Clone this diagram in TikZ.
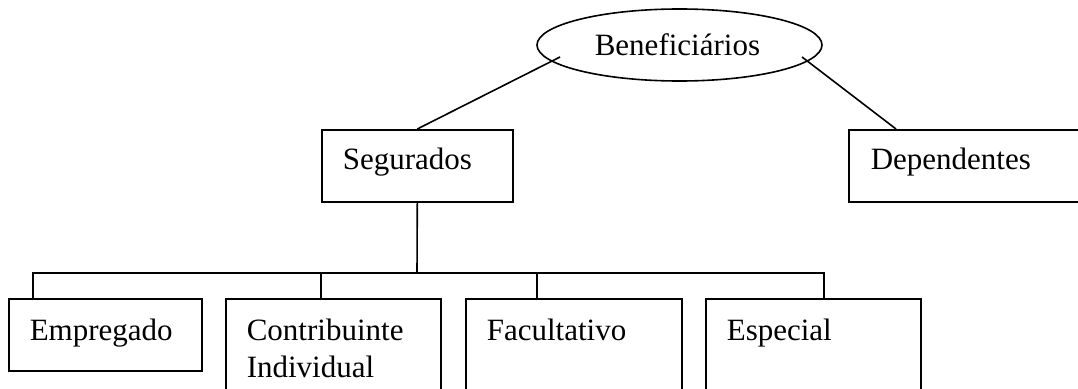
\documentclass[tikz,border=0pt]{standalone}
\usepackage{fontspec}
\setmainfont{Liberation Serif}
\usetikzlibrary{calc,shapes.geometric}
\begin{document}
\begin{tikzpicture}[x=1pt,y=-1pt, line width=1.6pt,
  box/.style={draw, rectangle, inner sep=0pt, anchor=north west},
  lbl/.style={anchor=base west, inner sep=0pt, font=\fontsize{31}{37}\selectfont},
  ]
\useasboundingbox (0,0) rectangle (1078,388);
% top ellipse
\node[draw, ellipse, minimum width=285pt, minimum height=72pt, inner sep=0pt] (ben) at (679.5,45) {};
\node[lbl] (bent) at (594,55) {Beneficiários};
% second level
\node[box, minimum width=191pt, minimum height=72pt] (seg) at (321,129) {};
\node[lbl] (segt) at (342,169) {Segurados};
\node[box, minimum width=260pt, minimum height=72pt] (dep) at (848,129) {};
\node[lbl] (dept) at (870,169) {Dependentes};
% third level
\node[box, minimum width=193pt, minimum height=72pt] (emp) at (8,298) {};
\node[lbl] (empt) at (29,340) {Empregado};
\node[box, minimum width=215pt, minimum height=110pt] (con) at (225,298) {};
\node[lbl] (cont1) at (246,340) {Contribuinte};
\node[lbl] (cont2) at (246,377) {Individual};
\node[box, minimum width=216pt, minimum height=110pt] (fac) at (465,298) {};
\node[lbl] (fact) at (486,340) {Facultativo};
\node[box, minimum width=215pt, minimum height=110pt] (esp) at (705,298) {};
\node[lbl] (espt) at (726,340) {Especial};
% connectors
\coordinate (bus) at (417,273);
\draw ($(ben.center)+(-119.5,12)$) -- (seg.north);
\draw ($(ben.center)+(122.5,12)$) -- ($(dep.north west)+(48,0)$);
\draw (seg.south) -- (bus);
\draw ($(emp.north west)+(25,0)$) -- ++(0,-25) -| ($(esp.north west)+(119,0)$);
\draw ($(con.north west)+(96,0)$) -- ++(0,-25);
\draw ($(fac.north west)+(72,0)$) -- ++(0,-25);
\end{tikzpicture}
\end{document}
